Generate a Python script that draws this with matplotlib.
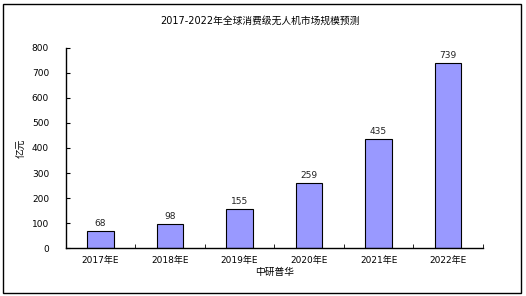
import matplotlib.pyplot as plt
from matplotlib.patches import Rectangle

plt.rcParams['font.family'] = ['DejaVu Sans', 'Noto Sans CJK SC']

years = ["2017年E", "2018年E", "2019年E", "2020年E", "2021年E", "2022年E"]
market_size = [68, 98, 155, 259, 435, 739]
y_ticks = [0, 100, 200, 300, 400, 500, 600, 700, 800]

fig = plt.figure(figsize=(5.26, 2.96), dpi=100)
ax = fig.add_axes([0.125, 0.162, 0.793, 0.676])

x = list(range(len(years)))
ax.bar(x, market_size, width=0.38, color="#9999FF", edgecolor="black", linewidth=0.8)
for xi, v in zip(x, market_size):
    ax.text(xi, v + 12, str(v), ha="center", va="bottom", fontsize=6.5, color="#222222")

ax.set_xlim(-0.5, len(years) - 0.5)
ax.set_ylim(0, 800)
ax.set_yticks(y_ticks)
ax.set_yticklabels([str(t) for t in y_ticks], fontsize=6.5)
ax.set_xticks(x)
ax.set_xticklabels(years, fontsize=6.5)
ax.tick_params(axis="x", length=0, pad=6)
ax.tick_params(axis="y", direction="in", length=3, pad=12)
# boundary ticks between categories
ax.set_xticks([i + 0.5 for i in range(len(years))], minor=True)
ax.tick_params(axis="x", which="minor", direction="in", length=3)

for side in ["top", "right"]:
    ax.spines[side].set_visible(False)
ax.spines["left"].set_linewidth(1.0)
ax.spines["bottom"].set_linewidth(1.0)

ax.set_ylabel("亿元", fontsize=7, labelpad=4)
ax.set_xlabel("中研普华", fontsize=7, labelpad=1)
fig.text(0.494, 0.93, "2017-2022年全球消费级无人机市场规模预测", ha="center", va="center", fontsize=7)

fig.patches.append(Rectangle((0.006, 0.01), 0.984, 0.976, transform=fig.transFigure,
                             fill=False, edgecolor="black", linewidth=1.0))

fig.savefig("out.png", dpi=100)
